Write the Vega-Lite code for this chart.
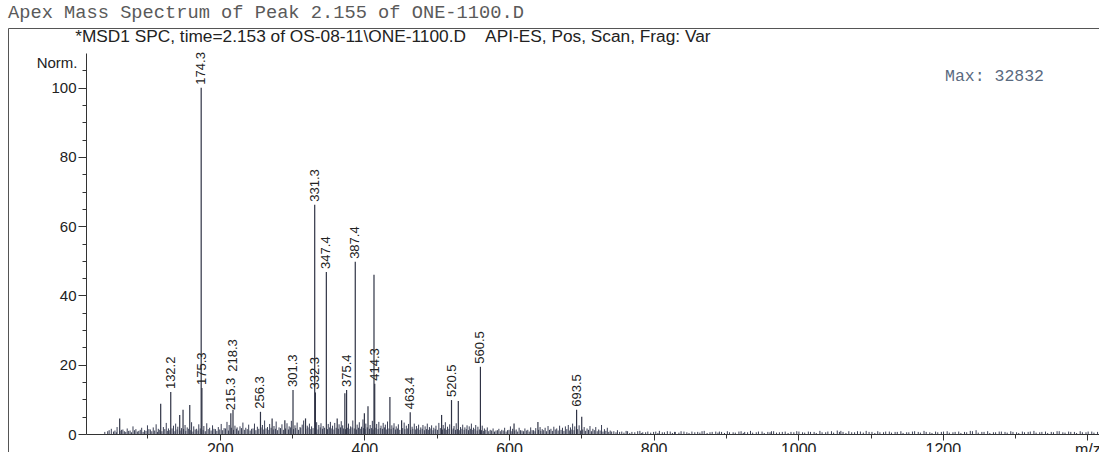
{
  "$schema": "https://vega.github.io/schema/vega-lite/v6.json",
  "width": 1091,
  "height": 430,
  "autosize": "none",
  "padding": {"left": 8, "top": 28, "right": 0, "bottom": 0},
  "background": "white",
  "config": {
    "view": {"stroke": "#555", "strokeWidth": 1},
    "font": "Liberation Sans"
  },
  "title": {
    "text": "Apex Mass Spectrum of Peak 2.155 of ONE-1100.D",
    "anchor": "start",
    "frame": "group",
    "font": "Liberation Mono",
    "fontSize": 18.7,
    "fontWeight": "normal",
    "color": "#5a5a5a",
    "offset": 6
  },
  "datasets": {
    "peaks": [
      {"mz": 61.6, "i": 4.5, "lbl": ""},
      {"mz": 118.3, "i": 8.7, "lbl": ""},
      {"mz": 132.2, "i": 12.1, "lbl": "132.2"},
      {"mz": 144.6, "i": 5.5, "lbl": ""},
      {"mz": 149.2, "i": 7.0, "lbl": ""},
      {"mz": 158.5, "i": 8.4, "lbl": ""},
      {"mz": 174.3, "i": 100, "lbl": "174.3"},
      {"mz": 175.3, "i": 13.3, "lbl": "175.3"},
      {"mz": 215.3, "i": 6.0, "lbl": "215.3"},
      {"mz": 218.3, "i": 7.0, "lbl": "218.3"},
      {"mz": 256.3, "i": 6.4, "lbl": "256.3"},
      {"mz": 272.4, "i": 4.5, "lbl": ""},
      {"mz": 290.0, "i": 4.0, "lbl": ""},
      {"mz": 301.3, "i": 12.7, "lbl": "301.3"},
      {"mz": 318.6, "i": 4.5, "lbl": ""},
      {"mz": 331.3, "i": 66.2, "lbl": "331.3"},
      {"mz": 332.3, "i": 12.0, "lbl": "332.3"},
      {"mz": 347.4, "i": 46.8, "lbl": "347.4"},
      {"mz": 362.4, "i": 4.5, "lbl": ""},
      {"mz": 373.0, "i": 11.8, "lbl": ""},
      {"mz": 375.4, "i": 12.7, "lbl": "375.4"},
      {"mz": 387.4, "i": 49.7, "lbl": "387.4"},
      {"mz": 400.0, "i": 6.0, "lbl": ""},
      {"mz": 405.0, "i": 8.0, "lbl": ""},
      {"mz": 413.3, "i": 46.0, "lbl": ""},
      {"mz": 414.3, "i": 14.5, "lbl": "414.3"},
      {"mz": 435.3, "i": 10.7, "lbl": ""},
      {"mz": 451.5, "i": 4.0, "lbl": ""},
      {"mz": 463.4, "i": 6.3, "lbl": "463.4"},
      {"mz": 506.8, "i": 5.5, "lbl": ""},
      {"mz": 520.5, "i": 9.8, "lbl": "520.5"},
      {"mz": 529.9, "i": 9.5, "lbl": ""},
      {"mz": 560.5, "i": 19.4, "lbl": "560.5"},
      {"mz": 607.0, "i": 3.0, "lbl": ""},
      {"mz": 640.0, "i": 3.5, "lbl": ""},
      {"mz": 693.5, "i": 7.0, "lbl": "693.5"},
      {"mz": 700.6, "i": 5.0, "lbl": ""}
    ],
    "noise": [
      {"mz": 45, "i": 0.8}, {"mz": 50, "i": 1.5}, {"mz": 55, "i": 1.0}, {"mz": 58, "i": 2.0}, {"mz": 64, "i": 1.2},
      {"mz": 68, "i": 0.8}, {"mz": 72, "i": 1.6}, {"mz": 76, "i": 1.0}, {"mz": 80, "i": 2.2}, {"mz": 84, "i": 1.4},
      {"mz": 88, "i": 0.9}, {"mz": 92, "i": 1.8}, {"mz": 96, "i": 1.1}, {"mz": 100, "i": 2.5}, {"mz": 104, "i": 1.3},
      {"mz": 108, "i": 1.9}, {"mz": 112, "i": 2.8}, {"mz": 115, "i": 1.5}, {"mz": 122, "i": 2.0}, {"mz": 126, "i": 3.2},
      {"mz": 129, "i": 1.6}, {"mz": 136, "i": 2.4}, {"mz": 139, "i": 3.0}, {"mz": 142, "i": 2.1}, {"mz": 147, "i": 1.7},
      {"mz": 152, "i": 2.6}, {"mz": 155, "i": 1.9}, {"mz": 161, "i": 3.4}, {"mz": 164, "i": 2.2}, {"mz": 168, "i": 1.5},
      {"mz": 171, "i": 2.8}, {"mz": 178, "i": 2.3}, {"mz": 182, "i": 3.1}, {"mz": 186, "i": 1.8}, {"mz": 190, "i": 2.5},
      {"mz": 194, "i": 1.4}, {"mz": 198, "i": 2.0}, {"mz": 202, "i": 2.9}, {"mz": 206, "i": 1.7}, {"mz": 210, "i": 3.5},
      {"mz": 213, "i": 2.6}, {"mz": 221, "i": 2.4}, {"mz": 224, "i": 1.9}, {"mz": 228, "i": 2.2}, {"mz": 232, "i": 3.3},
      {"mz": 236, "i": 1.8}, {"mz": 240, "i": 2.7}, {"mz": 244, "i": 1.5}, {"mz": 248, "i": 3.0}, {"mz": 252, "i": 2.1},
      {"mz": 259, "i": 2.6}, {"mz": 262, "i": 3.9}, {"mz": 266, "i": 2.0}, {"mz": 269, "i": 2.9}, {"mz": 275, "i": 2.3},
      {"mz": 278, "i": 3.6}, {"mz": 282, "i": 1.9}, {"mz": 286, "i": 2.8}, {"mz": 293, "i": 3.1}, {"mz": 296, "i": 2.2},
      {"mz": 299, "i": 3.8}, {"mz": 304, "i": 2.5}, {"mz": 307, "i": 3.3}, {"mz": 311, "i": 2.0}, {"mz": 314, "i": 2.7},
      {"mz": 316, "i": 3.9}, {"mz": 321, "i": 2.4}, {"mz": 324, "i": 3.0}, {"mz": 327, "i": 2.2}, {"mz": 334, "i": 3.4},
      {"mz": 337, "i": 2.6}, {"mz": 340, "i": 3.1}, {"mz": 343, "i": 2.3}, {"mz": 350, "i": 2.9}, {"mz": 353, "i": 3.5},
      {"mz": 356, "i": 2.4}, {"mz": 359, "i": 3.2}, {"mz": 365, "i": 2.8}, {"mz": 368, "i": 3.7}, {"mz": 370, "i": 2.5},
      {"mz": 378, "i": 3.0}, {"mz": 381, "i": 2.2}, {"mz": 384, "i": 3.9}, {"mz": 390, "i": 2.7}, {"mz": 393, "i": 3.4},
      {"mz": 396, "i": 2.1}, {"mz": 398, "i": 4.2}, {"mz": 402, "i": 3.0}, {"mz": 408, "i": 2.6}, {"mz": 411, "i": 3.8},
      {"mz": 417, "i": 2.9}, {"mz": 420, "i": 3.5}, {"mz": 423, "i": 2.4}, {"mz": 426, "i": 3.2}, {"mz": 429, "i": 2.7},
      {"mz": 432, "i": 3.6}, {"mz": 438, "i": 2.5}, {"mz": 441, "i": 3.1}, {"mz": 444, "i": 2.2}, {"mz": 447, "i": 2.8},
      {"mz": 455, "i": 3.3}, {"mz": 458, "i": 2.4}, {"mz": 461, "i": 2.9}, {"mz": 466, "i": 2.1}, {"mz": 469, "i": 3.0},
      {"mz": 472, "i": 2.3}, {"mz": 475, "i": 2.7}, {"mz": 478, "i": 1.9}, {"mz": 481, "i": 2.6}, {"mz": 484, "i": 2.2},
      {"mz": 487, "i": 3.0}, {"mz": 490, "i": 2.0}, {"mz": 493, "i": 2.5}, {"mz": 496, "i": 1.8}, {"mz": 499, "i": 2.4},
      {"mz": 503, "i": 3.2}, {"mz": 509, "i": 2.6}, {"mz": 512, "i": 3.4}, {"mz": 515, "i": 2.1}, {"mz": 518, "i": 2.8},
      {"mz": 524, "i": 2.3}, {"mz": 527, "i": 3.1}, {"mz": 533, "i": 2.0}, {"mz": 536, "i": 2.7}, {"mz": 539, "i": 1.9},
      {"mz": 542, "i": 2.5}, {"mz": 545, "i": 2.2}, {"mz": 548, "i": 3.0}, {"mz": 551, "i": 1.8}, {"mz": 554, "i": 2.6},
      {"mz": 557, "i": 2.1}, {"mz": 563, "i": 2.4}, {"mz": 566, "i": 1.6}, {"mz": 570, "i": 1.9}, {"mz": 574, "i": 1.2},
      {"mz": 578, "i": 1.6}, {"mz": 582, "i": 1.0}, {"mz": 586, "i": 1.5}, {"mz": 590, "i": 1.2}, {"mz": 594, "i": 1.8},
      {"mz": 598, "i": 1.1}, {"mz": 602, "i": 2.2}, {"mz": 605, "i": 1.5}, {"mz": 610, "i": 1.3}, {"mz": 614, "i": 1.8},
      {"mz": 618, "i": 1.0}, {"mz": 622, "i": 1.6}, {"mz": 626, "i": 1.2}, {"mz": 630, "i": 1.9}, {"mz": 634, "i": 1.1},
      {"mz": 637, "i": 1.7}, {"mz": 643, "i": 2.0}, {"mz": 646, "i": 1.4}, {"mz": 650, "i": 1.8}, {"mz": 654, "i": 2.3},
      {"mz": 658, "i": 1.5}, {"mz": 662, "i": 2.1}, {"mz": 666, "i": 1.6}, {"mz": 670, "i": 2.4}, {"mz": 674, "i": 1.8},
      {"mz": 678, "i": 2.2}, {"mz": 682, "i": 2.6}, {"mz": 685, "i": 1.9}, {"mz": 688, "i": 3.0}, {"mz": 691, "i": 2.2},
      {"mz": 697, "i": 2.5}, {"mz": 704, "i": 2.0}, {"mz": 708, "i": 1.6}, {"mz": 712, "i": 2.3}, {"mz": 716, "i": 1.5},
      {"mz": 720, "i": 2.0}, {"mz": 724, "i": 1.3}, {"mz": 728, "i": 2.6}, {"mz": 732, "i": 1.4}, {"mz": 736, "i": 1.8},
      {"mz": 740, "i": 1.0}, {"mz": 745, "i": 0.8}, {"mz": 750, "i": 1.1}, {"mz": 756, "i": 0.7}, {"mz": 762, "i": 0.9},
      {"mz": 770, "i": 0.6}, {"mz": 778, "i": 0.8}, {"mz": 785, "i": 0.5}, {"mz": 792, "i": 0.7}, {"mz": 800, "i": 0.6},
      {"mz": 808, "i": 0.9}, {"mz": 815, "i": 0.5}, {"mz": 823, "i": 0.7}, {"mz": 830, "i": 0.6}, {"mz": 838, "i": 0.8},
      {"mz": 846, "i": 0.5}, {"mz": 853, "i": 0.7}, {"mz": 861, "i": 0.6}, {"mz": 870, "i": 0.9}, {"mz": 878, "i": 0.5},
      {"mz": 886, "i": 0.7}, {"mz": 894, "i": 0.6}, {"mz": 902, "i": 0.8}, {"mz": 910, "i": 0.5}, {"mz": 918, "i": 0.7},
      {"mz": 926, "i": 0.6}, {"mz": 934, "i": 0.9}, {"mz": 942, "i": 0.5}, {"mz": 950, "i": 0.7}, {"mz": 958, "i": 0.6},
      {"mz": 966, "i": 0.8}, {"mz": 974, "i": 0.5}, {"mz": 982, "i": 0.7}, {"mz": 990, "i": 0.6}, {"mz": 998, "i": 0.8},
      {"mz": 1006, "i": 0.5}, {"mz": 1014, "i": 0.7}, {"mz": 1022, "i": 0.6}, {"mz": 1030, "i": 0.9}, {"mz": 1038, "i": 0.5},
      {"mz": 1046, "i": 0.8}, {"mz": 1054, "i": 1.0}, {"mz": 1062, "i": 0.6}, {"mz": 1070, "i": 0.8}, {"mz": 1078, "i": 0.5},
      {"mz": 1086, "i": 0.7}, {"mz": 1094, "i": 0.9}, {"mz": 1102, "i": 0.6}, {"mz": 1110, "i": 0.8}, {"mz": 1118, "i": 0.5},
      {"mz": 1126, "i": 0.7}, {"mz": 1134, "i": 0.6}, {"mz": 1142, "i": 0.8}, {"mz": 1150, "i": 0.5}, {"mz": 1158, "i": 0.7},
      {"mz": 1166, "i": 0.6}, {"mz": 1174, "i": 0.9}, {"mz": 1182, "i": 0.5}, {"mz": 1190, "i": 0.7}, {"mz": 1198, "i": 0.6},
      {"mz": 1206, "i": 0.8}, {"mz": 1214, "i": 0.5}, {"mz": 1222, "i": 0.7}, {"mz": 1230, "i": 0.6}, {"mz": 1238, "i": 0.9},
      {"mz": 1246, "i": 1.1}, {"mz": 1254, "i": 0.6}, {"mz": 1262, "i": 0.8}, {"mz": 1270, "i": 0.5}, {"mz": 1278, "i": 0.7},
      {"mz": 1286, "i": 0.6}, {"mz": 1294, "i": 0.8}, {"mz": 1302, "i": 0.5}, {"mz": 1310, "i": 0.7}, {"mz": 1318, "i": 0.6},
      {"mz": 1326, "i": 0.9}, {"mz": 1334, "i": 0.5}, {"mz": 1342, "i": 0.7}, {"mz": 1350, "i": 0.6}, {"mz": 1358, "i": 0.8},
      {"mz": 1366, "i": 0.5}, {"mz": 1374, "i": 0.7}, {"mz": 1382, "i": 0.6}, {"mz": 1390, "i": 0.8}, {"mz": 1398, "i": 0.5},
      {"mz": 1406, "i": 0.7}, {"mz": 1414, "i": 0.6},
      {"mz": 41, "i": 0.6}, {"mz": 47, "i": 1.1}, {"mz": 53, "i": 0.7}, {"mz": 57, "i": 0.5}, {"mz": 62, "i": 0.9},
      {"mz": 66, "i": 1.3}, {"mz": 70, "i": 0.6}, {"mz": 74, "i": 0.9}, {"mz": 78, "i": 0.5}, {"mz": 82, "i": 1.1},
      {"mz": 86, "i": 0.7}, {"mz": 90, "i": 1.2}, {"mz": 94, "i": 0.6}, {"mz": 98, "i": 0.9}, {"mz": 102, "i": 1.4},
      {"mz": 106, "i": 0.8}, {"mz": 110, "i": 1.0}, {"mz": 114, "i": 0.6}, {"mz": 117, "i": 1.2}, {"mz": 120, "i": 0.8},
      {"mz": 124, "i": 1.4}, {"mz": 128, "i": 0.9}, {"mz": 131, "i": 1.1}, {"mz": 134, "i": 1.6}, {"mz": 138, "i": 0.8},
      {"mz": 141, "i": 1.3}, {"mz": 145, "i": 1.0}, {"mz": 150, "i": 1.4}, {"mz": 153, "i": 0.9}, {"mz": 157, "i": 1.5},
      {"mz": 160, "i": 1.1}, {"mz": 163, "i": 0.7}, {"mz": 166, "i": 1.3}, {"mz": 170, "i": 1.0}, {"mz": 173, "i": 1.6},
      {"mz": 177, "i": 1.2}, {"mz": 180, "i": 0.8}, {"mz": 184, "i": 1.4}, {"mz": 188, "i": 1.0}, {"mz": 192, "i": 1.5},
      {"mz": 196, "i": 0.9}, {"mz": 200, "i": 1.3}, {"mz": 204, "i": 1.1}, {"mz": 208, "i": 1.6}, {"mz": 212, "i": 1.0},
      {"mz": 216, "i": 1.8}, {"mz": 219, "i": 1.2}, {"mz": 223, "i": 1.5}, {"mz": 226, "i": 1.0}, {"mz": 230, "i": 1.7},
      {"mz": 234, "i": 1.2}, {"mz": 238, "i": 1.4}, {"mz": 242, "i": 1.0}, {"mz": 246, "i": 1.6}, {"mz": 250, "i": 1.1},
      {"mz": 254, "i": 1.5}, {"mz": 257, "i": 1.9}, {"mz": 261, "i": 1.3}, {"mz": 264, "i": 1.6}, {"mz": 268, "i": 1.2},
      {"mz": 271, "i": 1.8}, {"mz": 274, "i": 1.3}, {"mz": 277, "i": 1.5}, {"mz": 280, "i": 1.1}, {"mz": 284, "i": 1.7},
      {"mz": 288, "i": 1.2}, {"mz": 291, "i": 1.6}, {"mz": 295, "i": 1.3}, {"mz": 298, "i": 1.9}, {"mz": 302, "i": 1.4},
      {"mz": 305, "i": 1.7}, {"mz": 309, "i": 1.2}, {"mz": 312, "i": 1.8}, {"mz": 319, "i": 1.5}, {"mz": 322, "i": 1.9},
      {"mz": 326, "i": 1.4}, {"mz": 329, "i": 1.7}, {"mz": 333, "i": 1.6}, {"mz": 336, "i": 1.3}, {"mz": 339, "i": 1.9},
      {"mz": 342, "i": 1.5}, {"mz": 345, "i": 1.8}, {"mz": 349, "i": 1.4}, {"mz": 352, "i": 1.9}, {"mz": 355, "i": 1.6},
      {"mz": 358, "i": 1.3}, {"mz": 361, "i": 1.8}, {"mz": 364, "i": 1.5}, {"mz": 367, "i": 1.9}, {"mz": 371, "i": 1.6},
      {"mz": 374, "i": 1.4}, {"mz": 377, "i": 1.8}, {"mz": 380, "i": 1.5}, {"mz": 383, "i": 1.9}, {"mz": 386, "i": 1.6},
      {"mz": 389, "i": 1.3}, {"mz": 392, "i": 1.8}, {"mz": 395, "i": 1.5}, {"mz": 399, "i": 1.7}, {"mz": 401, "i": 1.4},
      {"mz": 404, "i": 1.9}, {"mz": 407, "i": 1.5}, {"mz": 410, "i": 1.7}, {"mz": 412, "i": 1.3}, {"mz": 416, "i": 1.8},
      {"mz": 419, "i": 1.4}, {"mz": 422, "i": 1.7}, {"mz": 425, "i": 1.5}, {"mz": 428, "i": 1.9}, {"mz": 431, "i": 1.3},
      {"mz": 434, "i": 1.6}, {"mz": 437, "i": 1.4}, {"mz": 440, "i": 1.8}, {"mz": 443, "i": 1.3}, {"mz": 446, "i": 1.6},
      {"mz": 449, "i": 1.2}, {"mz": 453, "i": 1.7}, {"mz": 456, "i": 1.4}, {"mz": 460, "i": 1.6}, {"mz": 464, "i": 1.2},
      {"mz": 467, "i": 1.5}, {"mz": 471, "i": 1.3}, {"mz": 474, "i": 1.6}, {"mz": 477, "i": 1.2}, {"mz": 480, "i": 1.5},
      {"mz": 483, "i": 1.1}, {"mz": 486, "i": 1.4}, {"mz": 489, "i": 1.2}, {"mz": 492, "i": 1.6}, {"mz": 495, "i": 1.1},
      {"mz": 498, "i": 1.4}, {"mz": 501, "i": 1.2}, {"mz": 505, "i": 1.7}, {"mz": 508, "i": 1.3}, {"mz": 511, "i": 1.6},
      {"mz": 514, "i": 1.2}, {"mz": 517, "i": 1.5}, {"mz": 521, "i": 1.3}, {"mz": 523, "i": 1.6}, {"mz": 526, "i": 1.2},
      {"mz": 529, "i": 1.4}, {"mz": 532, "i": 1.1}, {"mz": 535, "i": 1.5}, {"mz": 538, "i": 1.2}, {"mz": 541, "i": 1.4},
      {"mz": 544, "i": 1.1}, {"mz": 547, "i": 1.5}, {"mz": 550, "i": 1.2}, {"mz": 553, "i": 1.4}, {"mz": 556, "i": 1.0},
      {"mz": 559, "i": 1.3}, {"mz": 562, "i": 1.1}, {"mz": 565, "i": 0.9}, {"mz": 568, "i": 1.2}, {"mz": 572, "i": 0.8},
      {"mz": 576, "i": 1.0}, {"mz": 580, "i": 0.7}, {"mz": 584, "i": 1.1}, {"mz": 588, "i": 0.8}, {"mz": 592, "i": 1.0},
      {"mz": 596, "i": 0.7}, {"mz": 600, "i": 1.2}, {"mz": 604, "i": 0.8}, {"mz": 608, "i": 1.0}, {"mz": 612, "i": 0.7},
      {"mz": 616, "i": 1.1}, {"mz": 620, "i": 0.8}, {"mz": 624, "i": 1.0}, {"mz": 628, "i": 0.7}, {"mz": 632, "i": 1.1},
      {"mz": 636, "i": 0.8}, {"mz": 641, "i": 1.2}, {"mz": 644, "i": 0.9}, {"mz": 648, "i": 1.1}, {"mz": 652, "i": 0.8},
      {"mz": 656, "i": 1.2}, {"mz": 660, "i": 0.9}, {"mz": 664, "i": 1.3}, {"mz": 668, "i": 1.0}, {"mz": 672, "i": 1.2},
      {"mz": 676, "i": 0.9}, {"mz": 680, "i": 1.4}, {"mz": 684, "i": 1.0}, {"mz": 687, "i": 1.3}, {"mz": 690, "i": 1.1},
      {"mz": 695, "i": 1.4}, {"mz": 699, "i": 1.0}, {"mz": 702, "i": 1.3}, {"mz": 706, "i": 0.9}, {"mz": 710, "i": 1.2},
      {"mz": 714, "i": 0.8}, {"mz": 718, "i": 1.1}, {"mz": 722, "i": 0.8}, {"mz": 726, "i": 1.0}, {"mz": 730, "i": 0.7},
      {"mz": 734, "i": 0.9}, {"mz": 738, "i": 0.6}, {"mz": 742, "i": 0.7}, {"mz": 748, "i": 0.5}, {"mz": 753, "i": 0.6},
      {"mz": 759, "i": 0.4}, {"mz": 764, "i": 0.8}, {"mz": 767, "i": 0.3}, {"mz": 774, "i": 0.5}, {"mz": 781, "i": 0.9},
      {"mz": 783, "i": 0.3}, {"mz": 789, "i": 0.5}, {"mz": 796, "i": 0.4}, {"mz": 803, "i": 0.7}, {"mz": 806, "i": 0.3},
      {"mz": 812, "i": 0.5}, {"mz": 819, "i": 0.8}, {"mz": 826, "i": 0.3}, {"mz": 829, "i": 0.6}, {"mz": 835, "i": 0.4},
      {"mz": 842, "i": 0.7}, {"mz": 849, "i": 0.3}, {"mz": 857, "i": 0.5}, {"mz": 864, "i": 0.4}, {"mz": 867, "i": 0.8},
      {"mz": 874, "i": 0.3}, {"mz": 881, "i": 0.6}, {"mz": 889, "i": 0.4}, {"mz": 891, "i": 0.7}, {"mz": 898, "i": 0.3},
      {"mz": 905, "i": 0.5}, {"mz": 913, "i": 0.4}, {"mz": 921, "i": 0.8}, {"mz": 924, "i": 0.3}, {"mz": 930, "i": 0.5},
      {"mz": 937, "i": 0.4}, {"mz": 945, "i": 0.7}, {"mz": 953, "i": 0.3}, {"mz": 961, "i": 0.5}, {"mz": 963, "i": 0.8},
      {"mz": 970, "i": 0.4}, {"mz": 978, "i": 0.6}, {"mz": 986, "i": 0.3}, {"mz": 994, "i": 0.5}, {"mz": 1001, "i": 0.7},
      {"mz": 1009, "i": 0.4}, {"mz": 1017, "i": 0.6}, {"mz": 1025, "i": 0.3}, {"mz": 1033, "i": 0.5}, {"mz": 1041, "i": 0.7},
      {"mz": 1049, "i": 0.4}, {"mz": 1057, "i": 0.6}, {"mz": 1059, "i": 0.9}, {"mz": 1066, "i": 0.3}, {"mz": 1074, "i": 0.5},
      {"mz": 1082, "i": 0.8}, {"mz": 1090, "i": 0.4}, {"mz": 1098, "i": 0.6}, {"mz": 1106, "i": 0.3}, {"mz": 1113, "i": 0.5},
      {"mz": 1121, "i": 0.7}, {"mz": 1129, "i": 0.4}, {"mz": 1137, "i": 0.6}, {"mz": 1145, "i": 0.3}, {"mz": 1153, "i": 0.5},
      {"mz": 1161, "i": 0.8}, {"mz": 1169, "i": 0.4}, {"mz": 1177, "i": 0.6}, {"mz": 1185, "i": 0.3}, {"mz": 1193, "i": 0.5},
      {"mz": 1201, "i": 0.7}, {"mz": 1209, "i": 0.4}, {"mz": 1217, "i": 0.6}, {"mz": 1225, "i": 0.3}, {"mz": 1233, "i": 0.5},
      {"mz": 1241, "i": 0.8}, {"mz": 1249, "i": 0.4}, {"mz": 1257, "i": 0.6}, {"mz": 1265, "i": 0.3}, {"mz": 1273, "i": 0.5},
      {"mz": 1281, "i": 0.7}, {"mz": 1289, "i": 0.4}, {"mz": 1297, "i": 0.6}, {"mz": 1305, "i": 0.3}, {"mz": 1313, "i": 0.5},
      {"mz": 1321, "i": 0.7}, {"mz": 1329, "i": 0.4}, {"mz": 1337, "i": 0.6}, {"mz": 1345, "i": 0.3}, {"mz": 1353, "i": 0.5},
      {"mz": 1361, "i": 0.8}, {"mz": 1369, "i": 0.4}, {"mz": 1377, "i": 0.6}, {"mz": 1385, "i": 0.3}, {"mz": 1393, "i": 0.5},
      {"mz": 1401, "i": 0.7}, {"mz": 1409, "i": 0.4}
    ],
    "notes": [
      {"mz": 0, "i": 114.6, "txt": "*MSD1 SPC, time=2.153 of OS-08-11\\ONE-1100.D\u00a0\u00a0\u00a0\u00a0API-ES, Pos, Scan, Frag: Var"},
      {"mz": 1203, "i": 103.4, "txt": "Max: 32832"}
    ]
  },
  "encoding": {
    "x": {
      "field": "mz",
      "type": "quantitative",
      "scale": {"domain": [15, 1416], "range": [78, 1091], "nice": false, "zero": false},
      "axis": {
        "title": null,
        "values": [100, 200, 300, 400, 500, 600, 700, 800, 900, 1000, 1100, 1200, 1300, 1400],
        "labelExpr": "datum.value === 1400 ? 'm/z' : (datum.value % 200 === 0 ? datum.label : '')",
        "format": "d",
        "offset": -24,
        "grid": false,
        "domainColor": "#333",
        "tickColor": "#333",
        "tickSize": {"condition": {"test": "datum.value % 200 === 0", "value": 6}, "value": 4},
        "labelFontSize": 16,
        "labelColor": "#222",
        "labelPadding": 1,
        "labelFlush": false,
        "labelOverlap": false
      }
    },
    "y": {
      "field": "i",
      "type": "quantitative",
      "scale": {"domain": [0, 110], "range": [406, 25], "nice": false, "zero": false},
      "axis": {
        "title": "Norm.",
        "titleAngle": 0,
        "titleAlign": "right",
        "titleBaseline": "middle",
        "titleX": -9,
        "titleY": 34,
        "titleFontSize": 15,
        "titleFontWeight": "normal",
        "titleColor": "#222",
        "values": [0, 5, 10, 15, 20, 25, 30, 35, 40, 45, 50, 55, 60, 65, 70, 75, 80, 85, 90, 95, 100, 105],
        "labelExpr": "datum.value % 20 === 0 ? datum.label : ''",
        "offset": -78,
        "grid": false,
        "domainColor": "#333",
        "tickColor": "#333",
        "tickSize": {"condition": {"test": "datum.value % 20 === 0", "value": 8}, "value": 4},
        "labelFontSize": 15,
        "labelColor": "#222",
        "labelPadding": 2,
        "labelFlush": false,
        "labelOverlap": false
      }
    }
  },
  "layer": [
    {
      "data": {"name": "noise"},
      "mark": {"type": "rule", "color": "#3a3f55", "strokeWidth": 1},
      "encoding": {"y2": {"datum": 0}}
    },
    {
      "data": {"name": "peaks"},
      "mark": {"type": "rule", "color": "#2f3345", "strokeWidth": 1.2},
      "encoding": {"y2": {"datum": 0}}
    },
    {
      "data": {"name": "peaks"},
      "transform": [{"filter": "datum.lbl !== '' && datum.lbl !== '218.3'"}],
      "mark": {"type": "text", "angle": 270, "align": "left", "baseline": "middle", "dx": 3, "fontSize": 13, "color": "#222"},
      "encoding": {"text": {"field": "lbl"}}
    },
    {
      "data": {"name": "peaks"},
      "transform": [{"filter": "datum.lbl === '218.3'"}],
      "mark": {"type": "text", "angle": 270, "align": "left", "baseline": "middle", "dx": 38, "fontSize": 13, "color": "#222"},
      "encoding": {"text": {"field": "lbl"}}
    },
    {
      "data": {"name": "notes"},
      "transform": [{"filter": "datum.mz < 1000"}],
      "mark": {"type": "text", "align": "left", "baseline": "middle", "fontSize": 17.3, "color": "#222", "clip": false},
      "encoding": {"text": {"field": "txt"}}
    },
    {
      "data": {"name": "notes"},
      "transform": [{"filter": "datum.mz > 1000"}],
      "mark": {"type": "text", "align": "left", "baseline": "middle", "font": "Liberation Mono", "fontSize": 16.5, "color": "#5a6a80"},
      "encoding": {"text": {"field": "txt"}}
    }
  ]
}
